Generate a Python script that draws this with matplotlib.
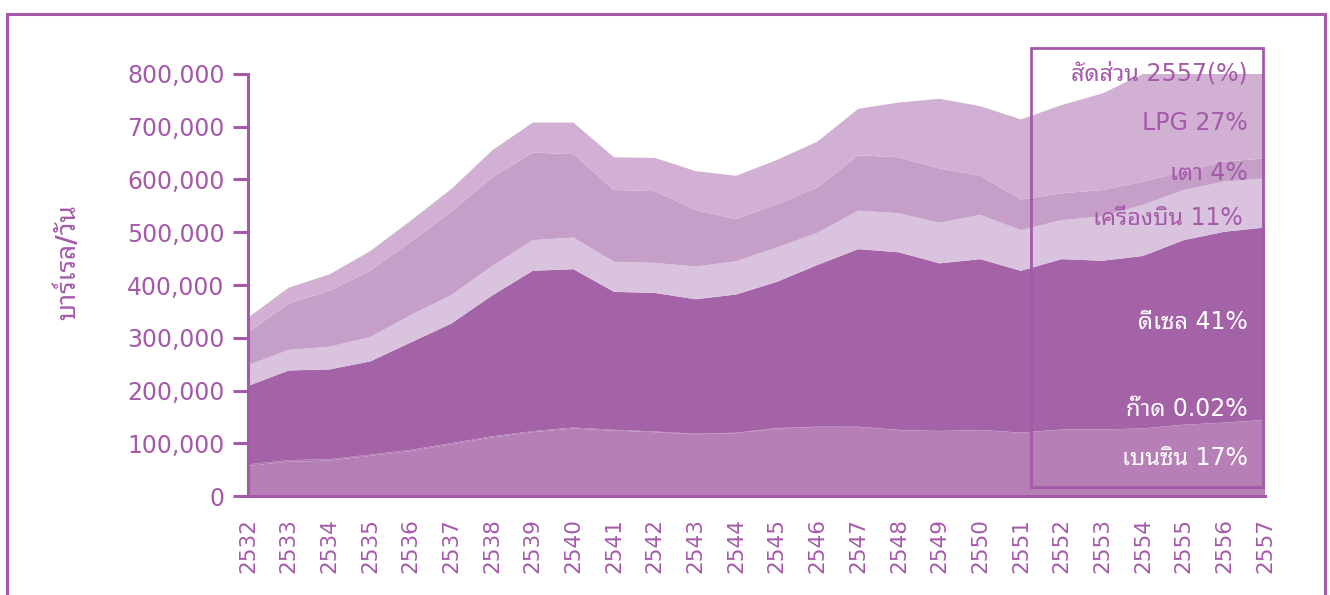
import matplotlib
matplotlib.use("Agg")
import numpy as np
import matplotlib.pyplot as plt
from matplotlib import font_manager as fm
from matplotlib.patches import Rectangle
from matplotlib.ticker import FuncFormatter

# Thai font: pick the first one that is installed
installed = {f.name for f in fm.fontManager.ttflist}
thai_pref = ['Noto Sans Thai Looped', 'Tahoma', 'Sarabun', 'Noto Sans Thai', 'Bai Jamjuree']
thai = next((n for n in thai_pref if n in installed), 'DejaVu Sans')
plt.rcParams['font.family'] = ['DejaVu Sans', thai]

# Data (barrels/day)
years = list(range(2532, 2558))
gasoline = [57000, 65000, 67000, 76000, 85000, 98000, 111000, 121000, 128000, 124000,
            121000, 117000, 119000, 128000, 131000, 131000, 125000, 123000, 125000, 120000,
            126000, 126000, 128000, 135000, 139000, 144000]
kerosene = [3000, 3000, 2800, 2600, 2500, 2300, 2100, 2000, 1800, 1500,
            1300, 1100, 900, 700, 500, 400, 300, 250, 200, 200,
            150, 150, 150, 150, 150, 150]
diesel = [148500, 170000, 170200, 176400, 203500, 226700, 266900, 304000, 300200, 261500,
          262700, 254900, 262100, 277300, 306500, 336600, 336700, 317750, 323800, 306800,
          322850, 319850, 326850, 349850, 361850, 364850]
jet = [39500, 39000, 43000, 46000, 52000, 54000, 56000, 58000, 60000, 57000,
       57000, 62000, 63000, 65000, 61000, 73000, 74000, 77000, 84000, 77000,
       74000, 84000, 97000, 95000, 95000, 93000]
fuel_oil = [62000, 88000, 106000, 126000, 139000, 158000, 168000, 166000, 158000, 136000,
            136000, 107000, 80000, 82000, 86000, 105000, 106000, 103000, 74000, 58000,
            51000, 50000, 44000, 35000, 38000, 38000]
lpg = [28000, 30000, 31000, 37000, 40000, 43000, 51000, 57000, 60000, 62000,
       63000, 74000, 82000, 84000, 87000, 88000, 104000, 132000, 132000, 152000,
       167000, 183000, 204000, 185000, 166000, 160000]

legend_labels = ['สัดส่วน 2557(%)', 'LPG 27%', 'เตา 4%', 'เครื่องบิน 11%',
                 'ดีเซล 41%', 'ก๊าด 0.02%', 'เบนซิน 17%']

purple = '#a45aa9'
colors = ['#b680b7', '#b07ab2', '#a563a7', '#dac3de', '#c59fc8', '#d2b0d3']

fig = plt.figure(figsize=(13.3, 5.95), dpi=100)
ax = fig.add_axes([248 / 1330, 99 / 595, 1017 / 1330, 422 / 595])

ax.stackplot(years, gasoline, kerosene, diesel, jet, fuel_oil, lpg,
             colors=colors, linewidth=0)

ax.set_xlim(2532, 2557)
ax.set_ylim(0, 800000)

# axes styling
for s in ['top', 'right']:
    ax.spines[s].set_visible(False)
for s in ['left', 'bottom']:
    ax.spines[s].set_color(purple)
    ax.spines[s].set_linewidth(2.2)
ax.spines['left'].set_zorder(5)

ax.set_yticks(np.arange(0, 800001, 100000))
ax.yaxis.set_major_formatter(FuncFormatter(lambda v, p: '{:,.0f}'.format(v)))
ax.tick_params(axis='y', colors=purple, labelsize=17, length=11, width=2.2, pad=6)

ax.set_xticks(years)
ax.set_xticklabels([str(y) for y in years], rotation=90)
ax.set_xticks(years[::2], minor=True)
ax.tick_params(axis='x', which='major', colors=purple, labelsize=15.5, length=0, pad=16)
ax.tick_params(axis='x', which='minor', color=purple, length=8, width=2.2)

fig.text(68 / 1330, 1 - 262 / 595, 'บาร์เรล/วัน', rotation=90, ha='center', va='center',
         color=purple, fontsize=19, fontweight='bold')

# legend box with shares
ax.add_patch(Rectangle((1031 / 1330, 1 - 487 / 595), 232 / 1330, 439 / 595,
                       transform=fig.transFigure, fill=False, edgecolor=purple,
                       linewidth=2, clip_on=False, zorder=6))
label_y = [73, 123, 173, 218, 322, 409, 458]
label_c = [purple, purple, purple, purple, 'white', 'white', 'white']
label_x = [1248, 1248, 1248, 1243, 1248, 1248, 1248]
for t, yy, c, xx in zip(legend_labels, label_y, label_c, label_x):
    fig.text(xx / 1330, 1 - yy / 595, t, ha='right', va='center', color=c,
             fontsize=17, zorder=7)

# outer frame
fig.patches.append(Rectangle((7 / 1330, -0.05), 1318 / 1330, 1.05 - 14 / 595,
                             transform=fig.transFigure, fill=False,
                             edgecolor=purple, linewidth=2.2))

fig.savefig('out.png', dpi=100)
